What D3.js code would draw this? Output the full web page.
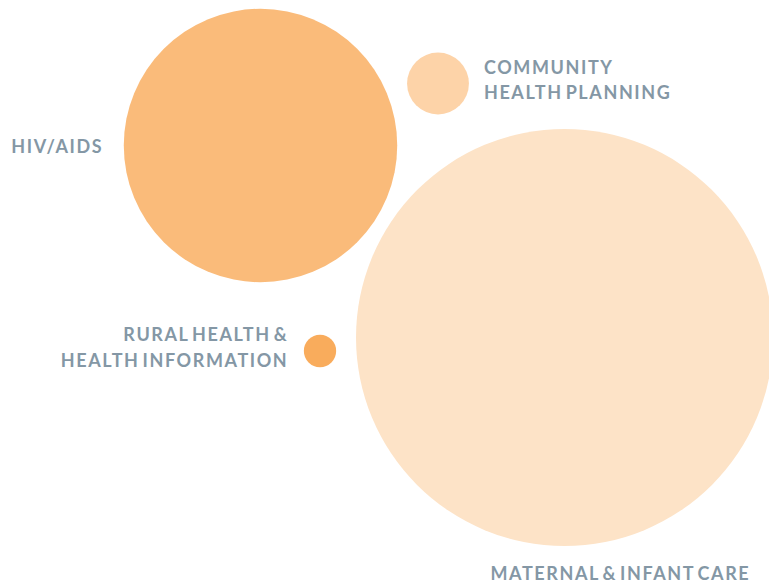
<!DOCTYPE html>
<html>
<head>
<meta charset="utf-8">
<script src="https://cdn.jsdelivr.net/npm/d3@7"></script>
<style>
  html, body { margin: 0; padding: 0; background: #ffffff; }
  svg { display: block; }
  text { font-family: Lato, "Open Sans", sans-serif; font-weight: 700; fill: #8497a5; letter-spacing: 1.6px; word-spacing: -3px; }
</style>
</head>
<body>
<svg id="chart" width="769" height="585"></svg>
<script>
// ---- data (relative funding size) ----
const categories = ["HIV/AIDS", "Community Health Planning", "Rural Health & Health Information", "Maternal & Infant Care"];
const values = [43, 2.2, 0.6, 100];
const labelLines = [
  ["HIV/AIDS"],
  ["COMMUNITY", "HEALTH PLANNING"],
  ["RURAL HEALTH &", "HEALTH INFORMATION"],
  ["MATERNAL & INFANT CARE"]
];
const colors = ["#fabb7a", "#fdd3a8", "#f9ac5c", "#fde3c7"];

// ---- layout ----
const svg = d3.select("#chart");
const r = d3.scaleSqrt().domain([0, d3.max(values)]).range([0, 208.5]);

// bubble centres in layout space
const layout = [
  { cx: 260.5, cy: 145.5, label: "left",  gap: 20.5, dy: 7.5 },
  { cx: 438,   cy: 83.5,  label: "right", gap: 15,   dy: -10 },
  { cx: 320,   cy: 351,   label: "left",  gap: 15.5, dy: -10 },
  { cx: 564.5, cy: 337.5, label: "below", gap: 34,   dy: 0 }
];

const data = categories.map((c, i) => ({
  name: c, value: values[i], lines: labelLines[i], color: colors[i], ...layout[i]
}));

// draw larger first
const order = data.slice().sort((a, b) => b.value - a.value);
svg.selectAll("circle.bubble").data(order).join("circle")
  .attr("class", "bubble")
  .attr("cx", d => d.cx)
  .attr("cy", d => d.cy)
  .attr("r", d => r(d.value))
  .attr("fill", d => d.color);

const fontSize = 18, lineH = 25.5;
data.forEach(d => {
  const rad = r(d.value);
  let x, y0, anchor;
  if (d.label === "left") {
    x = d.cx - rad - d.gap; anchor = "end";
    y0 = d.cy + d.dy;
  } else if (d.label === "right") {
    x = d.cx + rad + d.gap; anchor = "start";
    y0 = d.cy + d.dy;
  } else {
    x = d.cx - 74; anchor = "start";
    y0 = d.cy + rad + d.gap;
  }
  const t = svg.append("text")
    .attr("text-anchor", anchor)
    .attr("font-size", fontSize);
  d.lines.forEach((ln, j) => {
    t.append("tspan").attr("x", x).attr("y", y0 + j * lineH).text(ln);
  });
});
</script>
</body>
</html>
